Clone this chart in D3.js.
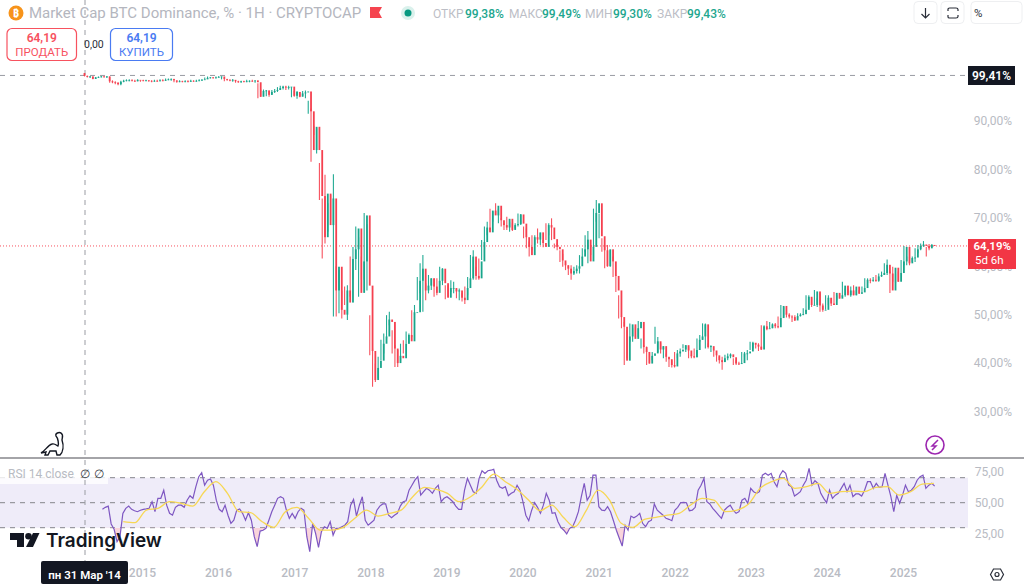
<!DOCTYPE html>
<html><head><meta charset="utf-8">
<script src="https://cdn.jsdelivr.net/npm/d3@7"></script>
<style>
html,body{margin:0;padding:0;background:#fff}
svg{display:block}
text{font-family:Roboto,"Noto Sans",sans-serif}
.tick line{display:none}
.domain{display:none}
</style></head><body>
<svg id="c" width="1024" height="585"></svg>
<script>
const candleHigh=[99.9,99.4,99.3,99.2,99.1,99.2,99.3,99.3,99.3,99.2,98.4,98.2,98.0,98.3,98.5,98.6,98.6,98.6,98.5,98.6,98.4,98.5,98.5,98.4,98.4,98.5,98.5,98.6,98.6,98.8,98.8,98.8,98.5,98.3,98.4,98.3,98.4,98.4,98.5,98.4,98.5,98.6,98.7,99.0,99.2,99.1,99.1,99.2,99.3,99.2,98.9,98.7,98.6,98.7,98.4,98.3,98.3,98.3,98.5,98.4,98.5,98.3,
97.8,96.5,96.5,96.4,96.3,96.4,96.6,97.0,97.3,97.3,97.3,97.3,97.0,96.2,96.2,96.0,96.2,96.3,94.2,92.6,89.0,88.5,81.3,74.0,78.9,73.0,74.7,79.0,60.0,59.2,55.0,55.8,56.1,62.0,64.0,68.2,66.0,62.0,71.0,68.7,
49.9,43.0,39.9,41.3,44.8,46.1,49.9,50.6,46.8,43.7,42.7,44.0,44.7,46.5,46.1,50.9,52.0,57.8,60.6,62.3,56.5,58.2,57.5,57.5,57.5,59.9,59.6,56.1,56.1,57.1,56.8,55.4,55.4,54.4,55.8,57.8,62.3,63.3,59.9,61.6,65.4,68.2,69.2,71.9,71.3,73.0,71.9,69.9,68.9,70.2,69.2,68.9,68.9,70.9,70.8,68.2,67.8,65.1,66.4,66.4,67.8,66.8,65.4,68.9,68.9,69.9,64.7,64.7,63.3,62.6,60.9,60.2,60.2,59.9,60.2,62.3,63.7,66.4,67.3,64.4,71.9,73.7,70.9,65.8,64.4,64.4,63.3,62.0,58.2,54.0,49.6,48.5,46.8,48.2,47.2,47.5,
48.7,45.1,43.7,43.4,42.3,42.3,47.5,45.4,44.1,43.4,42.0,41.0,40.6,42.3,42.7,43.0,43.9,43.7,43.4,41.7,43.0,45.1,45.8,48.2,48.2,44.1,43.7,42.7,41.7,41.3,41.3,41.7,42.0,42.0,41.0,40.6,40.3,42.3,42.3,42.7,44.4,44.4,44.1,44.1,47.8,47.8,48.7,48.5,48.2,48.3,49.6,52.0,51.6,50.3,50.3,49.9,49.9,50.3,50.3,51.3,54.0,54.0,53.4,55.1,53.4,54.4,52.3,54.0,54.0,53.4,54.7,54.0,54.4,56.8,55.4,55.4,55.8,56.1,55.1,55.1,55.8,57.5,57.5,57.5,57.8,58.2,58.5,58.9,60.6,61.4,58.9,59.9,58.5,58.9,61.3,64.2,62.0,62.0,62.0,63.7,64.4,64.7,65.2,64.0,64.6,64.6];
const candleLow=[99.2,99.0,98.9,98.6,98.7,98.9,99.0,99.0,98.9,97.9,97.8,97.6,97.4,97.4,98.0,98.2,98.2,98.2,98.1,98.2,98.1,98.2,98.2,98.1,98.0,98.1,98.1,98.2,98.2,98.3,98.4,98.3,98.0,97.9,98.0,98.0,98.0,98.0,98.1,98.1,98.1,98.2,98.3,98.5,98.8,98.8,98.8,98.8,99.0,98.6,98.2,98.3,98.2,98.1,97.9,97.9,97.9,98.0,98.0,98.0,98.1,97.9,
94.7,95.0,95.2,95.1,95.0,95.4,95.8,96.0,96.4,96.5,96.4,96.5,94.9,95.0,94.6,94.9,95.2,94.7,91.5,81.6,87.1,83.3,73.7,61.6,64.7,67.1,69.5,49.6,49.6,50.3,49.2,52.0,48.9,53.7,57.2,59.2,53.7,57.2,57.2,55.0,
41.6,35.1,36.1,36.8,40.6,42.0,45.1,47.8,42.0,39.2,39.2,40.3,42.0,44.0,44.0,45.4,49.9,53.0,54.4,50.6,53.0,54.4,55.1,53.7,54.0,56.1,56.1,53.2,53.7,54.7,54.4,53.4,53.0,52.7,52.2,54.0,57.2,57.2,57.2,57.2,61.3,64.4,66.4,67.5,69.2,70.6,68.9,68.2,67.5,67.5,67.1,67.3,67.8,68.2,68.5,65.8,63.7,62.0,63.3,64.4,64.7,64.4,63.9,65.4,66.4,65.4,63.7,63.3,60.9,59.9,59.2,58.2,57.2,58.2,58.5,58.5,61.6,63.0,60.6,62.3,63.7,69.2,65.8,63.0,59.6,59.9,59.9,57.8,54.7,49.2,47.2,39.6,41.0,44.4,44.4,45.4,
45.4,43.0,42.0,39.6,39.9,40.6,44.0,42.3,42.0,41.0,40.3,39.2,39.1,39.1,41.0,41.3,43.0,42.3,41.0,41.0,41.0,41.2,44.4,44.8,43.0,43.0,42.3,41.3,40.3,39.9,38.6,40.3,40.6,41.0,39.6,39.6,39.6,39.9,41.3,40.6,42.7,43.0,43.0,42.5,42.7,46.8,46.8,47.2,47.2,47.2,47.2,49.2,49.6,49.4,49.2,48.5,48.7,49.2,49.6,49.9,50.6,51.3,51.6,52.0,51.6,50.6,50.6,51.0,52.0,51.8,52.0,53.0,53.4,53.7,53.7,54.4,53.7,54.0,54.0,54.4,54.4,55.4,56.5,56.5,56.8,56.8,56.8,57.8,58.2,58.2,54.5,56.8,56.5,56.8,58.5,60.2,60.2,60.2,60.9,60.9,62.7,63.3,64.0,62.0,63.3,63.9];
const candleClose=[99.3,99.1,99.2,98.7,99.0,99.1,99.2,99.1,99.2,98.2,98.0,97.9,97.6,98.1,98.3,98.4,98.4,98.3,98.2,98.5,98.4,98.3,98.4,98.3,98.2,98.3,98.2,98.4,98.3,98.5,98.6,98.7,98.4,98.1,98.2,98.1,98.2,98.1,98.3,98.2,98.3,98.4,98.5,98.6,98.9,99.0,98.9,99.0,99.1,99.2,98.7,98.5,98.4,98.5,98.2,98.0,98.2,98.1,98.2,98.3,98.2,98.4,98.0,
95.0,96.2,96.3,95.4,96.0,96.2,96.4,96.8,97.1,96.9,97.0,97.1,95.2,96.0,95.0,95.7,95.9,96.1,92.0,84.0,88.8,84.0,74.5,66.0,75.0,68.5,74.0,55.0,59.9,51.0,50.0,55.0,52.5,61.5,63.5,67.8,54.5,61.0,70.5,56.0,
42.5,36.5,39.0,40.5,44.0,45.5,49.0,48.5,43.0,40.0,41.5,41.0,44.0,45.8,44.5,50.5,50.5,57.0,59.5,55.0,56.0,57.5,55.8,54.5,57.0,59.5,56.5,53.5,55.5,55.5,54.8,55.0,53.5,53.0,55.5,57.5,62.0,58.0,57.5,61.0,65.0,68.0,67.0,71.5,70.5,72.5,69.5,68.5,68.0,69.8,67.5,68.5,68.7,70.7,68.8,66.0,64.0,62.3,66.0,65.5,67.0,64.8,64.0,68.5,68.0,65.6,64.0,63.5,61.2,60.2,59.5,58.5,59.0,59.5,60.0,62.0,63.5,65.5,61.0,64.0,71.0,73.0,66.2,63.3,60.0,63.5,61.0,58.0,55.0,49.5,47.5,40.5,45.5,48.0,45.0,47.2,
48.5,43.3,42.3,39.9,41.5,42.0,44.5,42.8,43.5,41.3,40.8,39.6,39.3,42.0,42.4,42.8,43.7,42.6,41.4,41.2,42.7,44.8,45.5,48.0,43.3,43.5,42.6,41.6,40.6,40.2,41.0,41.4,41.8,41.2,39.9,39.8,40.0,42.0,42.0,42.4,44.2,43.8,43.4,42.8,47.6,47.0,47.2,48.0,47.6,47.4,49.3,51.8,50.0,49.6,49.5,48.8,49.7,50.0,50.1,51.0,53.7,52.0,52.0,54.8,51.9,51.0,51.0,53.5,52.3,52.0,54.5,53.3,54.0,56.0,54.0,55.0,54.0,55.8,54.3,54.6,55.5,57.2,57.0,57.2,57.0,57.9,58.2,58.6,60.3,58.5,55.0,59.7,56.8,58.6,61.0,64.0,60.6,61.7,61.8,63.5,64.2,64.5,64.2,63.7,64.4,64.19];
const rsiValues=[44.7,46.3,47.3,33,28.7,18.8,22.8,41.5,45.5,47.3,44.7,43.6,42.8,44,44.7,45,45.5,50.8,42.8,53.5,53.5,60,48,41.5,40,46.3,48,48,46.3,52,55.6,53.5,62.8,70.8,74,64,68,69,64,52,44.7,42.8,48,40,33.5,36,44,45,41.5,36,42,36,22.8,14.8,27.3,28,29.5,36,42.8,48,53.5,54.8,53.5,44,37.5,41.5,37.5,42.8,45.5,44,22.8,10.8,33.5,25.5,14.3,26.8,30.8,29.5,34.8,24,29.5,
29.5,30.8,32,34.8,48,52.7,39.3,48,54.8,36,32,34,36,44,47.3,49,49,40,38,40,41.5,47.3,50.8,51.6,60,64,68,70.8,56,58.8,61.5,60,57.5,61.5,64,50.8,53.5,54.8,53,50.8,47.3,44.7,44.7,60,69.5,64,58.8,57.5,69.5,75.6,73.5,75.6,76,76.7,68,62.8,61.5,62.8,55.6,57.5,58.8,64,60,50.8,40,35.6,44,50,46.3,41.5,48,57.5,52,41.5,42,34.8,30.3,28,25,29.5,30.8,36,42.8,54.8,65.5,52,56,72,72,46.8,44,43.6,46.8,42.8,35.6,28,21.5,15.3,32,28,39.3,38,39.3,41.5,33.5,30.8,34.8,36,49,44,42,40,37.5,36.7,35.6,44,46.3,
50,50.3,50,43.6,44,46.3,60,64,69.5,50.8,49,45.5,42.8,40,37.5,44,46.3,48,44,41.5,42.8,52,53.5,49.5,61.5,58.8,57.5,58.8,72,73.5,72,73.5,66.8,62.8,72,75.6,73.5,64,62.8,55.3,57,58.8,64,68,77.5,64,67.6,65.5,57.5,53.5,50,60,53.5,56,57.5,61.5,65.5,58.8,64,54.8,57,57,55.3,60,66.8,66.8,61.5,65.5,62.3,62.8,73.5,64,54.8,42.8,56,49.5,56,64,58.8,60,62.8,68,70.8,72,61.5,64,65.5,63.3];
const rsiAverage=[34.8,34,44.1,45.5,50.8,49.5,47.3,58.8,66.8,57.5,42.8,42,34.8,30.3,42.8,46.3,37.5,28.1,28.1,30.3,37.5,44.1,39.3,41.5,44.1,54.8,62.3,60.7,57.5,50.8,54.8,62.8,72.9,66.8,60.7,52.1,43.6,48.1,38.3,30.8,44.1,60.1,52.1,33.5,30.3,36.7,38.3,40.1,41.5,48.1,53.5,52.1,42.8,44.1,48.9,61.5,66.8,69.5,61.5,62.8,65.5,57.5,58.8,59.3,58.8,62.3,62.8,56.1,58.8,64.9,65.5];
const yearTicks=[2015,2016,2017,2018,2019,2020,2021,2022,2023,2024,2025];
const priceTicks=[90,80,70,60,50,40,30];
const rsiTicks=[75,50,25];
const rsiBands=[70,50,30];
const lastPrice=64.19, crossPrice=99.41;
const candleStart=new Date(2014,2,31), candleEnd=new Date(2025,5,2);
const rsiStart=new Date(2014,5,25), averageStart=new Date(2014,9,3), averageEnd=new Date(2025,4,29);

const UP="#22ab94", DOWN="#f7525f", GRAY="#b8bbc3";
const svg=d3.select("#c");
const ruRu=d3.formatLocale({decimal:",",thousands:" ",grouping:[3],currency:["","%"]});
const fmt=ruRu.format(".2f"), pct=v=>fmt(v)+"%";

const x=d3.scaleTime().domain([new Date(2015,0,1),new Date(2025,0,1)]).range([142,903]);
const y=d3.scaleLinear().domain([30,90]).range([411.5,121]);
const yr=d3.scaleLinear().domain([30,70]).range([527.7,477.7]);
const spread=(a,b,n)=>i=>new Date(+a+(b-a)*i/(n-1));
const cDate=spread(candleStart,candleEnd,candleClose.length);
const rDate=spread(rsiStart,candleEnd,rsiValues.length);
const aDate=spread(averageStart,averageEnd,rsiAverage.length);

const candles=candleClose.map((c,i)=>({d:cDate(i),o:i?candleClose[i-1]:candleHigh[0],h:candleHigh[i],l:candleLow[i],c}));
const rsi=rsiValues.map((v,i)=>({d:rDate(i),v}));
const avg=rsiAverage.map((v,i)=>({d:aDate(i),v}));

svg.append("rect").attr("x",0).attr("width",968).attr("y",yr(70)).attr("height",yr(30)-yr(70)).attr("fill","#efecf9");
svg.append("g").selectAll("line").data(rsiBands).join("line")
  .attr("x1",0).attr("x2",968).attr("y1",d=>yr(d)).attr("y2",d=>yr(d))
  .attr("stroke","#85858c").attr("stroke-width",1).attr("stroke-dasharray","5 5");
svg.append("rect").attr("x",0).attr("y",466).attr("width",108).attr("height",18).attr("fill","#fff").attr("opacity",.8);

svg.append("line").attr("x1",85).attr("x2",85).attr("y1",0).attr("y2",561).attr("stroke","#9a9ca3").attr("stroke-dasharray","5 5");
svg.append("line").attr("x1",0).attr("x2",968).attr("y1",y(crossPrice)).attr("y2",y(crossPrice)).attr("stroke","#9a9ca3").attr("stroke-dasharray","5 5");
svg.append("line").attr("x1",0).attr("x2",968).attr("y1",y(lastPrice)).attr("y2",y(lastPrice)).attr("stroke","#f7525f").attr("stroke-dasharray","1 2");

const g=svg.append("g");
g.selectAll("line.w").data(candles).join("line").attr("class","w")
  .attr("x1",d=>x(d.d)).attr("x2",d=>x(d.d)).attr("y1",d=>y(d.h)).attr("y2",d=>y(d.l))
  .attr("stroke",d=>d.c>=d.o?UP:DOWN).attr("stroke-width",1.1);
g.selectAll("rect.b").data(candles).join("rect").attr("class","b")
  .attr("x",d=>x(d.d)-0.9).attr("width",1.8)
  .attr("y",d=>y(Math.max(d.o,d.c))).attr("height",d=>Math.max(.8,Math.abs(y(d.o)-y(d.c))))
  .attr("fill",d=>d.c>=d.o?"#18a58b":"#f5404f");

svg.append("clipPath").attr("id","os").append("rect").attr("x",0).attr("width",968).attr("y",yr(30)).attr("height",60);
svg.append("path").datum(rsi).attr("clip-path","url(#os)").attr("fill","#f7c9d2").attr("opacity",.8)
  .attr("d",d3.area().x(d=>x(d.d)).y0(yr(30)).y1(d=>yr(d.v)));
const ln=d3.line().x(d=>x(d.d)).y(d=>yr(d.v));
svg.append("path").datum(rsi).attr("fill","none").attr("stroke","#7e57c2").attr("stroke-width",1.2).attr("d",ln);
svg.append("path").datum(avg).attr("fill","none").attr("stroke","#f7d754").attr("stroke-width",1.3).attr("d",ln.curve(d3.curveMonotoneX));

svg.append("line").attr("x1",0).attr("x2",1024).attr("y1",458).attr("y2",458).attr("stroke","#4b4b52").attr("stroke-width",1.2);

const yAxis=d3.axisRight(y).tickValues(priceTicks).tickFormat(pct).tickSize(0);
const ya=svg.append("g").attr("transform","translate(1012,0)").call(yAxis);
ya.selectAll("text").attr("x",0).attr("text-anchor","end").attr("fill",GRAY).style("font-size","12px");
const rAxis=d3.axisRight(yr).tickValues(rsiTicks).tickFormat(fmt).tickSize(0);
const ra=svg.append("g").attr("transform","translate(1004,0)").call(rAxis);
ra.selectAll("text").attr("x",0).attr("text-anchor","end").attr("fill",GRAY).style("font-size","12px");
const xAxis=d3.axisBottom(x).tickValues(yearTicks.map(v=>new Date(v,0,1))).tickFormat(d3.timeFormat("%Y")).tickSize(0);
const xa=svg.append("g").attr("transform","translate(0,562)").call(xAxis);
xa.selectAll("text").attr("y",6).attr("fill",GRAY).style("font-size","12px").style("font-weight","500");

function label(px,py,w,h,fill){svg.append("rect").attr("x",px).attr("y",py).attr("width",w).attr("height",h).attr("fill",fill);}
label(968,66,47,19,"#131722");
svg.append("text").attr("x",1011).attr("y",80).attr("text-anchor","end").attr("fill","#fff").style("font-size","12px").style("font-weight","600").text(pct(crossPrice));
label(968,239,48,30,"#f23645");
svg.append("text").attr("x",1011).attr("y",250).attr("text-anchor","end").attr("fill","#fff").style("font-size","11.5px").style("font-weight","600").text(pct(lastPrice));
svg.append("text").attr("x",975).attr("y",264).attr("fill","#fff").style("font-size","11.5px").text("5d 6h");

svg.append("rect").attr("x",41).attr("y",561).attr("width",87).attr("height",23).attr("rx",2).attr("fill","#131722");
svg.append("text").attr("x",84.5).attr("y",579).attr("text-anchor","middle").attr("fill","#fff").style("font-size","11.5px").style("font-weight","600").text("пн 31 Мар '14");

svg.append("circle").attr("cx",16).attr("cy",13).attr("r",7.5).attr("fill","#f7931a");
svg.append("text").attr("x",16).attr("y",17).attr("text-anchor","middle").attr("fill","#fff").style("font-size","11px").style("font-weight","700").text("₿");
svg.append("text").attr("x",29).attr("y",18).attr("fill","#b4b6be").style("font-size","15px").text("Market Cap BTC Dominance, % · 1H · CRYPTOCAP");
svg.append("path").attr("d","M370 7H382L379 12.5L382 18H370Z").attr("fill","#f5444f");
svg.append("circle").attr("cx",408).attr("cy",13).attr("r",7).attr("fill","#daf1ec");
svg.append("circle").attr("cx",408).attr("cy",13).attr("r",3.5).attr("fill","#089981");
const ohlcLabels=[["ОТКР",433,465,"99,38%"],["МАКС",509,542,"99,49%"],["МИН",585,613,"99,30%"],["ЗАКР",657,687,"99,43%"]];
ohlcLabels.forEach(([a,ax1,ax2,b])=>{
  svg.append("text").attr("x",ax1).attr("y",18).attr("fill","#bcbec6").style("font-size","12px").text(a);
  svg.append("text").attr("x",ax2).attr("y",18).attr("fill","#22a68e").style("font-size","12px").style("font-weight","500").text(b);
});

function btn(bx,w,col,a,b){
  svg.append("rect").attr("x",bx).attr("y",28.5).attr("width",w).attr("height",32).attr("rx",5).attr("fill","#fff").attr("stroke",col).attr("stroke-width",1.2);
  svg.append("text").attr("x",bx+w/2).attr("y",42).attr("text-anchor","middle").attr("fill",col).style("font-size","12px").style("font-weight","600").text(a);
  svg.append("text").attr("x",bx+w/2).attr("y",56).attr("text-anchor","middle").attr("fill",col).style("font-size","11.5px").text(b);
}
btn(7,69.5,"#f7525f","64,19","ПРОДАТЬ");
btn(110.5,62,"#4a7bf2","64,19","КУПИТЬ");
svg.append("text").attr("x",84).attr("y",48).attr("fill","#2a2e39").style("font-size","10.5px").text("0,00");

[[914,23],[941,23],[971,51]].forEach(([bx,w])=>svg.append("rect").attr("x",bx).attr("y",1.5).attr("width",w).attr("height",22).attr("rx",4).attr("fill","#fff").attr("stroke","#eeeff1"));
svg.append("path").attr("d","M925.5 8V18M921.5 14L925.5 18L929.5 14").attr("fill","none").attr("stroke","#2a2e39").attr("stroke-width",1.2);
svg.append("path").attr("d","M948 11V9Q948 8 949.5 8H956Q958 8 958 9.5V11M948 15V17Q948 18 949.5 18H956Q958 18 958 16.5V15").attr("fill","none").attr("stroke","#2a2e39").attr("stroke-width",1.2);
svg.append("text").attr("x",974).attr("y",17).attr("fill","#2a2e39").style("font-size","11.5px").text("%");

svg.append("text").attr("x",8).attr("y",478).attr("fill","#b8bbc3").style("font-size","12px").text("RSI 14 close");
svg.append("text").attr("x",80).attr("y",478).attr("fill","#3a3d46").style("font-size","12px").text("∅");
svg.append("text").attr("x",94).attr("y",478).attr("fill","#3a3d46").style("font-size","12px").text("∅");

svg.append("path").attr("d","M10 533H24V547H17V540H10Z").attr("fill","#131722");
svg.append("circle").attr("cx",28.5).attr("cy",536.3).attr("r",3.3).attr("fill","#131722");
svg.append("path").attr("d","M33 533H39.5L33 547H26Z").attr("fill","#131722");
svg.append("text").attr("x",46).attr("y",547).attr("fill","#131722").style("font-family","Inter,Roboto,sans-serif").style("font-size","19px").style("font-weight","600").text("TradingView");

svg.append("path").attr("d","M41 453C45 451 48 445 52 444C55 443 57 446 58 446C59 444 58 438 56 436C55 433 59 432 61 433C64 435 62 438 62 440C64 446 63 452 60 455H57L56 451H50L48 455H45L46 452Z").attr("fill","#fff").attr("stroke","#131722").attr("stroke-width",1.4);

svg.append("circle").attr("cx",935).attr("cy",445).attr("r",9).attr("fill","#fff").attr("stroke","#9c27b0").attr("stroke-width",1.6);
svg.append("path").attr("d","M938 440L932 446H936L932 450").attr("fill","none").attr("stroke","#9c27b0").attr("stroke-width",1.5);

svg.append("path").attr("d","M990.5 574.5L993.5 569H1000.5L1003.5 574.5L1000.5 580H993.5Z").attr("fill","none").attr("stroke","#2a2e39").attr("stroke-width",1.2);
svg.append("circle").attr("cx",997).attr("cy",574.5).attr("r",2).attr("fill","none").attr("stroke","#2a2e39").attr("stroke-width",1.2);
</script></body></html>
